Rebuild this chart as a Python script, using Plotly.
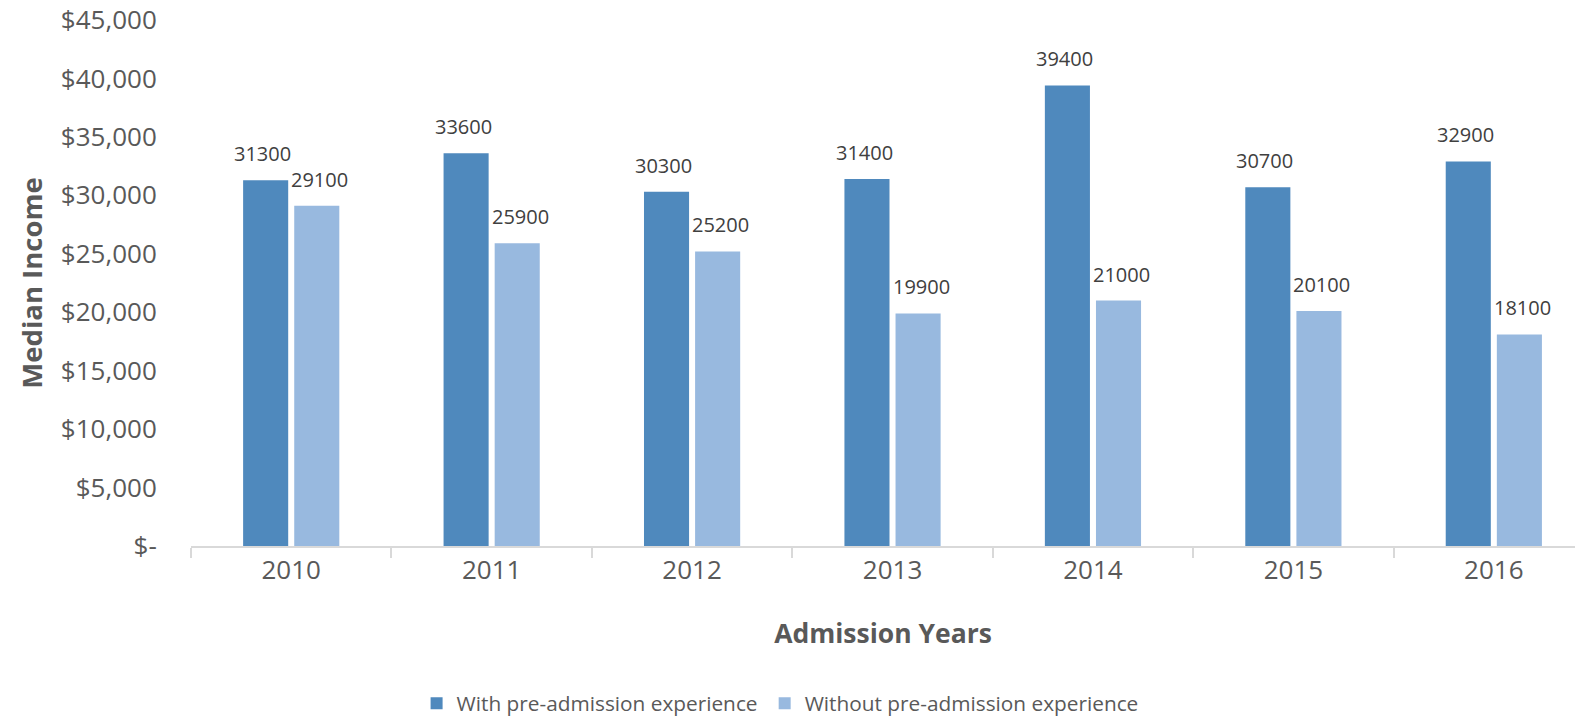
import plotly.graph_objects as go

years = ["2010", "2011", "2012", "2013", "2014", "2015", "2016"]
with_exp = [31300, 33600, 30300, 31400, 39400, 30700, 32900]
without_exp = [29100, 25900, 25200, 19900, 21000, 20100, 18100]
series_names = ["With pre-admission experience", "Without pre-admission experience"]
y_ticks = [0, 5000, 10000, 15000, 20000, 25000, 30000, 35000, 40000, 45000]
y_tick_text = ["$-", "$5,000", "$10,000", "$15,000", "$20,000", "$25,000",
               "$30,000", "$35,000", "$40,000", "$45,000"]

DARK = "#4F89BD"
LIGHT = "#98B9DF"
TEXT = "#595959"
LABEL = "#404040"
FONT = "Open Sans"

fig = go.Figure()
fig.add_trace(go.Bar(x=years, y=with_exp, name=series_names[0], legend="legend",
                     marker=dict(color=DARK, line=dict(width=0))))
fig.add_trace(go.Bar(x=years, y=without_exp, name=series_names[1], legend="legend2",
                     marker=dict(color=LIGHT, line=dict(width=0))))

# value labels above each bar (x given as category index)
annotations = []
for i, (a, b) in enumerate(zip(with_exp, without_exp)):
    for val, shift in ((a, -28.5), (b, 28.5)):
        annotations.append(dict(
            x=i, y=val, xref="x", yref="y", text=str(val), showarrow=False,
            xshift=shift, yshift=11, yanchor="bottom",
            font=dict(family=FONT, size=20, color=LABEL)))

legend_style = dict(orientation="h", xanchor="left",
                    yref="container", y=0.017, yanchor="middle",
                    font=dict(family=FONT, size=20.8, color=TEXT),
                    bgcolor="rgba(0,0,0,0)")

fig.update_layout(
    width=1575, height=716, autosize=False,
    margin=dict(l=191, r=0, t=20, b=170, autoexpand=False),
    paper_bgcolor="white", plot_bgcolor="white",
    barmode="group", bargap=0.49, bargroupgap=0.118,
    font=dict(family=FONT, color=TEXT),
    annotations=annotations,
    showlegend=True,
    legend=dict(x=0.163, **legend_style),
    legend2=dict(x=0.4145, **legend_style),
)
fig.update_xaxes(
    type="category", range=[-0.5, 6.405], automargin=False,
    showline=True, linecolor="#D9D9D9", linewidth=2,
    ticks="outside", tickson="boundaries", ticklen=10, tickcolor="#D9D9D9", tickwidth=2,
    showgrid=False, zeroline=False,
    tickfont=dict(family=FONT, size=26, color=TEXT),
    title=dict(text="<b>Admission Years</b>", font=dict(family=FONT, size=26.5, color=TEXT),
               standoff=38),
)
fig.update_yaxes(
    range=[0, 45000], tickmode="array", tickvals=y_ticks, ticktext=y_tick_text,
    automargin=False,
    showline=False, showgrid=False, zeroline=False,
    ticks="outside", ticklen=28, tickcolor="rgba(0,0,0,0)",
    tickfont=dict(family=FONT, size=26, color=TEXT),
    title=dict(text="<b>Median Income</b>", font=dict(family=FONT, size=27.5, color=TEXT),
               standoff=10),
)

fig.write_html("out.html")
